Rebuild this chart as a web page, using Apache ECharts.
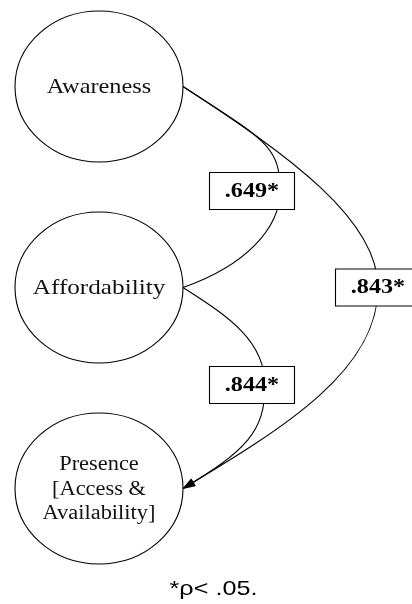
<!DOCTYPE html>
<html>
<head>
<meta charset="utf-8">
<script src="https://cdn.jsdelivr.net/npm/echarts@6/dist/echarts.min.js"></script>
<style>
html,body{margin:0;padding:0;background:#fff;}
#chart{width:412px;height:604px;}
</style>
</head>
<body>
<div id="chart"></div>
<script>
// ---- data ----
const nodeNames = ['Awareness', 'Affordability', 'Presence\n[Access &\nAvailability]'];
const nodeLevels = [0, 1, 2];
const edgeSources = [0, 0, 1];
const edgeTargets = [1, 2, 2];
const edgeCoefficients = ['.649*', '.843*', '.844*'];
const footnoteText = '*\u03c1< .05.';

// ---- layout (positions / sizes / styles) ----
const layout = {
  nodeX: 99, firstY: 86.5, levelGap: 201, rx: 84, ry: 75.5,
  nodeFont: ['21px "Liberation Serif"', '21px "Liberation Serif"', '20px "Liberation Serif"'],
  nodeScaleX: [1.16, 1.2, 1.12],
  nodeLineHeight: 24.5,
  boxW: 85, boxH: 37,
  boxFont: 'bold 21px "Liberation Serif"',
  edges: [
    {peakX: 280, peakDy: 4,  startSlope: 0.65, endSlope: 0.35, a: 83,  b: 45, c: 37, d: 63,  boxX: 252, arrow: false},
    {peakX: 378, peakDy: 0,  startSlope: 0.65, endSlope: 0.6,  a: 107, b: 68, c: 82, d: 104, boxX: 378, arrow: true},
    {peakX: 265, peakDy: -3, startSlope: 0.65, endSlope: 0.6,  a: 39,  b: 47, c: 47, d: 63,  boxX: 252, arrow: true}
  ],
  footX: 213.5, footY: 589
};

function nodeY(level) { return layout.firstY + level * layout.levelGap; }

const chart = echarts.init(document.getElementById('chart'), null, {renderer: 'canvas'});

const option = {
  backgroundColor: '#fff',
  animation: false,
  grid: {left: 0, right: 0, top: 0, bottom: 0},
  xAxis: {type: 'value', min: 0, max: 412, show: false},
  yAxis: {type: 'value', min: 0, max: 604, inverse: true, show: false},
  series: [
    {
      type: 'custom',
      name: 'edges',
      coordinateSystem: 'cartesian2d',
      data: edgeCoefficients.map((c, i) => [i]),
      encode: {x: 0, y: 0},
      renderItem: function (params, api) {
        const i = params.dataIndex;
        const e = layout.edges[i];
        const sy = nodeY(nodeLevels[edgeSources[i]]);
        const ty = nodeY(nodeLevels[edgeTargets[i]]);
        const sx = layout.nodeX + layout.rx;
        const tx = layout.nodeX + layout.rx;
        const py = (sy + ty) / 2 + e.peakDy;
        const pts = [
          [sx, sy],
          [sx + e.a, sy + e.startSlope * e.a],
          [e.peakX, py - e.b],
          [e.peakX, py],
          [e.peakX, py + e.c],
          [tx + e.d, ty - e.endSlope * e.d],
          [tx, ty]
        ].map(p => api.coord(p));
        const f = p => p[0].toFixed(2) + ' ' + p[1].toFixed(2);
        const d = 'M ' + f(pts[0]) + ' C ' + f(pts[1]) + ' ' + f(pts[2]) + ' ' + f(pts[3]) +
                  ' C ' + f(pts[4]) + ' ' + f(pts[5]) + ' ' + f(pts[6]);
        const children = [{
          type: 'path',
          shape: {pathData: d},
          style: {fill: null, stroke: '#000', lineWidth: 1.1}
        }];
        if (e.arrow) {
          const tip = pts[6];
          let ux = pts[5][0] - tip[0], uy = pts[5][1] - tip[1];
          const len = Math.sqrt(ux * ux + uy * uy);
          ux /= len; uy /= len;
          const L = 12, W = 4;
          const bx = tip[0] + ux * L, by = tip[1] + uy * L;
          children.push({
            type: 'polygon',
            shape: {points: [tip, [bx - uy * W, by + ux * W], [bx + uy * W, by - ux * W]]},
            style: {fill: '#000', stroke: '#000', lineWidth: 0.5}
          });
        }
        const c = api.coord([e.boxX, py]);
        const sz = api.size([layout.boxW, layout.boxH]);
        children.push({
          type: 'rect',
          shape: {x: c[0] - sz[0] / 2, y: c[1] - sz[1] / 2, width: sz[0], height: sz[1]},
          style: {fill: '#fff', stroke: '#000', lineWidth: 1.1}
        });
        children.push({
          type: 'text',
          x: c[0], y: c[1] + 0.5, scaleX: 1.15,
          style: {text: edgeCoefficients[i], font: layout.boxFont, fill: '#000', align: 'center', verticalAlign: 'middle'}
        });
        return {type: 'group', children: children};
      }
    },
    {
      type: 'custom',
      name: 'nodes',
      coordinateSystem: 'cartesian2d',
      data: nodeNames.map((n, i) => [i]),
      encode: {x: 0, y: 0},
      renderItem: function (params, api) {
        const i = params.dataIndex;
        const c = api.coord([layout.nodeX, nodeY(nodeLevels[i])]);
        const r = api.size([layout.rx, layout.ry]);
        return {
          type: 'group',
          children: [
            {
              type: 'ellipse',
              shape: {cx: c[0], cy: c[1], rx: r[0], ry: r[1]},
              style: {fill: '#fff', stroke: '#000', lineWidth: 1.1}
            },
            {
              type: 'text',
              x: c[0], y: c[1] + 1, scaleX: layout.nodeScaleX[i],
              style: {
                text: nodeNames[i], font: layout.nodeFont[i], fill: '#111',
                align: 'center', verticalAlign: 'middle', lineHeight: layout.nodeLineHeight
              }
            }
          ]
        };
      }
    }
  ],
  graphic: [{
    type: 'text',
    x: layout.footX, y: layout.footY, scaleX: 1.2,
    style: {text: footnoteText, font: '21px "Liberation Sans"', fill: '#000', align: 'center', verticalAlign: 'middle'}
  }]
};

chart.setOption(option);
</script>
</body>
</html>
